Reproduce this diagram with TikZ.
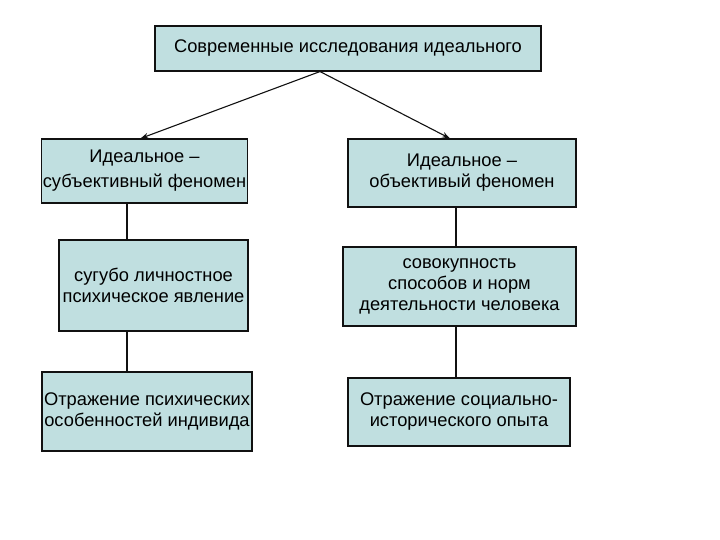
\documentclass[tikz,border=0pt]{standalone}
\usepackage{fontspec}
\setmainfont{Liberation Sans}
\usepackage{tikz}
\usetikzlibrary{arrows.meta,positioning,calc}
\definecolor{idfill}{HTML}{C0DFE0}
\definecolor{idink}{HTML}{111111}
\tikzset{
  idBox/.style={draw=idink, fill=idfill, line width=1.1pt, align=center, inner sep=1pt, font=\fontsize{18.3}{21}\selectfont},
  idArrow/.style={-{Stealth[length=8pt,width=5.5pt]}, line width=1.1pt, draw=idink},
  idLine/.style={line width=1.1pt, draw=idink}
}

\begin{document}
\begin{tikzpicture}[x=1pt,y=-1pt]
  \useasboundingbox (0,0) rectangle (720,540);
  \node[idBox, minimum width=386pt, minimum height=45pt] (top) at (348,48.5) {Современные исследования идеального};
  \node[idBox, minimum width=205pt, minimum height=64pt] (subj) at (144.5,171) {Идеальное --\\[4pt]субъективный феномен};
  \node[idBox, minimum width=228pt, minimum height=68pt] (obj) at (462,173) {Идеальное --\\объективый феномен};
  \node[idBox, minimum width=189pt, minimum height=91pt] (pers) at (153.5,285.5) {сугубо личностное\\психическое явление};
  \node[idBox, minimum width=233pt, minimum height=79pt] (norm) at (459.5,286.5) {совокупность\\способов и норм\\деятельности человека};
  \node[idBox, minimum width=210pt, minimum height=79pt] (reflA) at (147,411.5) {Отражение психических\\особенностей индивида};
  \node[idBox, minimum width=222pt, minimum height=68pt] (reflB) at (459,412) {Отражение социально-\\исторического опыта};
  \coordinate (apex) at (320,0);
  \coordinate (lx) at (127,0);
  \coordinate (rx) at (456,0);
  \draw[idArrow] (top.south -| apex) -- ([xshift=-4pt]subj.north);
  \draw[idArrow] (top.south -| apex) -- ([xshift=-12pt]obj.north);
  \draw[idLine] (subj.south -| lx) -- (pers.north -| lx);
  \draw[idLine] (pers.south -| lx) -- (reflA.north -| lx);
  \draw[idLine] (obj.south -| rx) -- (norm.north -| rx);
  \draw[idLine] (norm.south -| rx) -- (reflB.north -| rx);
\end{tikzpicture}
\end{document}
